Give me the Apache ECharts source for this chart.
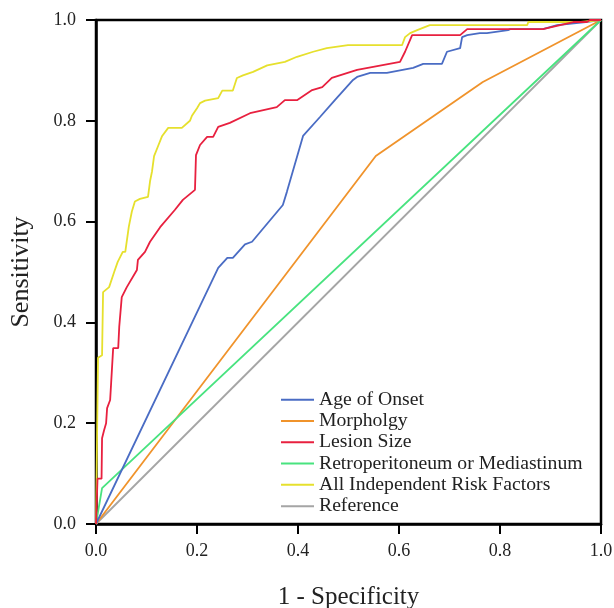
<!DOCTYPE html>
<html>
<head>
<meta charset="utf-8">
<script src="https://cdn.jsdelivr.net/npm/echarts@6/dist/echarts.min.js"></script>
<style>
  html, body { margin: 0; padding: 0; background: #fff; }
  #rocChart { width: 614px; height: 608px; }
</style>
</head>
<body>
<div id="rocChart"></div>
<script>
// ROC curves: x = 1 - specificity, y = sensitivity
const seriesNames = ['Age of Onset', 'Morpholgy', 'Lesion Size', 'Retroperitoneum or Mediastinum', 'All Independent Risk Factors', 'Reference'];
const axisTicks = [0, 0.2, 0.4, 0.6, 0.8, 1.0];

const ageFpr = [0, 0.242, 0.260, 0.271, 0.295, 0.309, 0.370, 0.378, 0.410, 0.444, 0.473, 0.509, 0.517, 0.543, 0.576, 0.628, 0.648, 0.685, 0.695, 0.721, 0.725, 0.735, 0.760, 0.774, 0.816, 0.820, 0.885, 0.913, 0.970, 1];
const ageTpr = [0, 0.508, 0.528, 0.528, 0.555, 0.560, 0.633, 0.659, 0.770, 0.808, 0.841, 0.881, 0.887, 0.895, 0.895, 0.905, 0.913, 0.913, 0.937, 0.944, 0.966, 0.970, 0.974, 0.974, 0.980, 0.982, 0.982, 0.990, 0.996, 1];

const morphFpr = [0, 0.554, 0.766, 1];
const morphTpr = [0, 0.730, 0.877, 1];

const lesionFpr = [0, 0.003, 0.011, 0.012, 0.016, 0.020, 0.022, 0.028, 0.030, 0.034, 0.044, 0.046, 0.051, 0.061, 0.081, 0.083, 0.097, 0.107, 0.127, 0.156, 0.172, 0.196, 0.198, 0.206, 0.220, 0.232, 0.242, 0.265, 0.305, 0.358, 0.374, 0.398, 0.428, 0.448, 0.467, 0.517, 0.602, 0.612, 0.626, 0.721, 0.735, 0.885, 0.919, 0.945, 0.972, 0.978, 1];
const lesionTpr = [0, 0.090, 0.090, 0.170, 0.186, 0.200, 0.230, 0.246, 0.280, 0.349, 0.349, 0.391, 0.450, 0.470, 0.504, 0.524, 0.540, 0.560, 0.589, 0.623, 0.643, 0.663, 0.732, 0.752, 0.768, 0.768, 0.788, 0.796, 0.815, 0.827, 0.841, 0.841, 0.861, 0.867, 0.885, 0.901, 0.917, 0.937, 0.970, 0.970, 0.982, 0.982, 0.990, 0.996, 0.996, 1, 1];

const retroFpr = [0, 0.012, 1];
const retroTpr = [0, 0.071, 1];

const allFpr = [0, 0.004, 0.012, 0.014, 0.026, 0.036, 0.043, 0.053, 0.058, 0.065, 0.071, 0.077, 0.087, 0.103, 0.107, 0.111, 0.115, 0.123, 0.131, 0.143, 0.170, 0.186, 0.190, 0.200, 0.206, 0.216, 0.242, 0.250, 0.271, 0.279, 0.291, 0.311, 0.339, 0.374, 0.398, 0.430, 0.457, 0.499, 0.606, 0.612, 0.622, 0.636, 0.661, 0.854, 0.856, 0.960, 1];
const allTpr = [0, 0.330, 0.335, 0.460, 0.470, 0.500, 0.520, 0.540, 0.540, 0.590, 0.620, 0.640, 0.645, 0.649, 0.680, 0.700, 0.730, 0.750, 0.770, 0.786, 0.786, 0.800, 0.810, 0.825, 0.835, 0.840, 0.845, 0.860, 0.860, 0.885, 0.890, 0.897, 0.910, 0.917, 0.927, 0.937, 0.944, 0.950, 0.950, 0.966, 0.974, 0.980, 0.990, 0.990, 0.996, 0.996, 1];

const refFpr = [0, 1];
const refTpr = [0, 1];

const colors = ['#4a6cc4', '#f0932b', '#e8203f', '#48e37f', '#e6e02d', '#a5a5a5'];

const zip = (xs, ys) => xs.map((x, i) => [x, ys[i]]);
const curves = [
  zip(ageFpr, ageTpr),
  zip(morphFpr, morphTpr),
  zip(lesionFpr, lesionTpr),
  zip(retroFpr, retroTpr),
  zip(allFpr, allTpr),
  zip(refFpr, refTpr)
];

const serif = '"Liberation Serif", "Times New Roman", serif';
const chart = echarts.init(document.getElementById('rocChart'));

const axisCommon = {
  type: 'value',
  min: 0,
  max: 1,
  interval: 0.2,
  nameLocation: 'middle',
  axisLine: { show: true, lineStyle: { color: '#000', width: 2.5 } },
  axisTick: { show: true, inside: false, length: 10, lineStyle: { color: '#000', width: 2 } },
  axisLabel: {
    fontFamily: serif, fontSize: 18, color: '#222',
    formatter: v => v.toFixed(1)
  },
  splitLine: { show: false }
};

chart.setOption({
  animation: false,
  color: colors,
  grid: {
    left: 96, right: 13, top: 20, bottom: 84,
    containLabel: false,
    outerBoundsMode: 'none',
    show: true, borderColor: '#000', borderWidth: 2.5, backgroundColor: '#fff'
  },
  legend: {
    orient: 'vertical',
    left: 276,
    top: 384,
    icon: 'rect',
    itemWidth: 33,
    itemHeight: 2,
    itemGap: 0,
    textStyle: { fontFamily: serif, fontSize: 19.7, lineHeight: 21.3, color: '#222' },
    data: seriesNames
  },
  xAxis: Object.assign({}, axisCommon, {
    name: '1 - Specificity',
    nameGap: 61,
    nameTextStyle: { fontFamily: serif, fontSize: 25, color: '#222' },
    axisLabel: Object.assign({}, axisCommon.axisLabel, { margin: 18 })
  }),
  yAxis: Object.assign({}, axisCommon, {
    name: 'Sensitivity',
    nameGap: 62,
    nameTextStyle: { fontFamily: serif, fontSize: 26, color: '#222' },
    axisLabel: Object.assign({}, axisCommon.axisLabel, { margin: 20 })
  }),
  series: seriesNames.map((name, i) => ({
    name: name,
    type: 'line',
    data: curves[i],
    symbol: 'none',
    showSymbol: false,
    lineStyle: { width: 1.8, color: colors[i] },
    z: [3, 2, 5, 2, 4, 1][i]
  }))
});
</script>
</body>
</html>
